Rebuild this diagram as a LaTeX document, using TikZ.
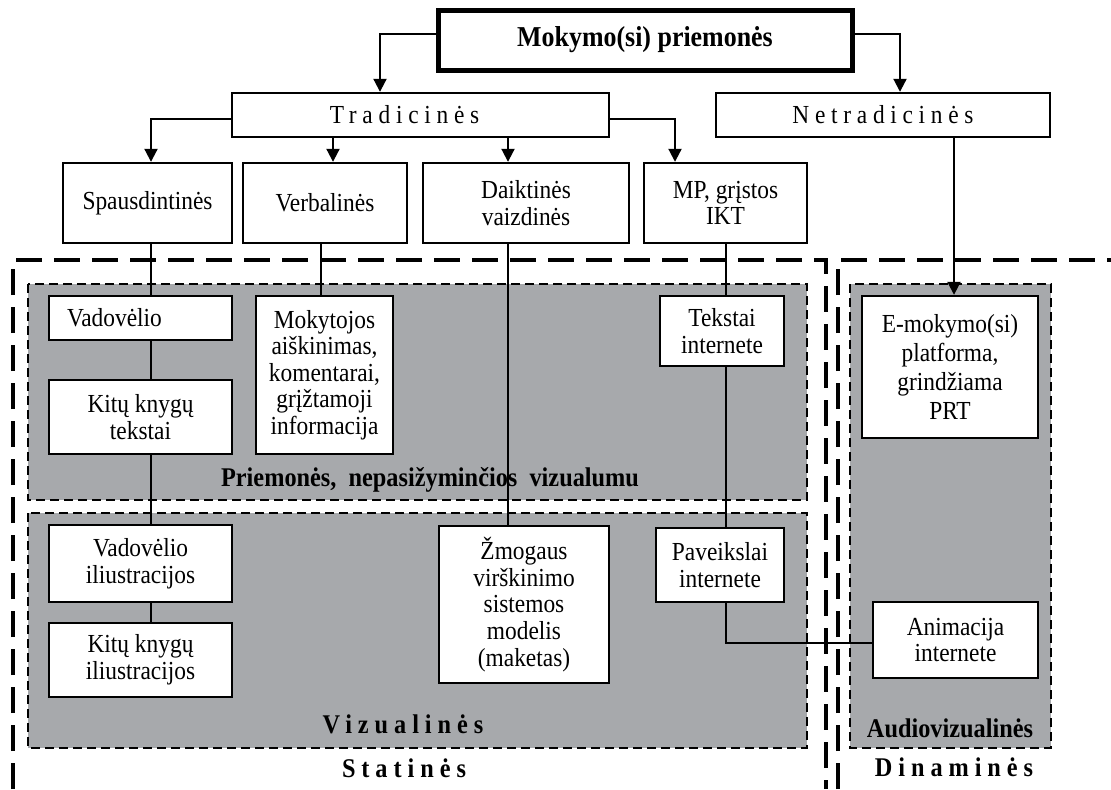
\documentclass[tikz,border=0pt]{standalone}
\usepackage{fontspec}
\setmainfont{Liberation Serif}[FakeStretch=0.9]
\usepackage{tikz}
\usetikzlibrary{arrows.meta}
\definecolor{areagray}{RGB}{167,169,172}
\newcommand{\spaced}[1]{{\addfontfeature{LetterSpace=22}#1}}

\begin{document}
\begin{tikzpicture}[x=0.5pt,y=-0.5pt,
  box/.style={draw,line width=1.2pt,fill=white,align=center,inner sep=1pt,
    font=\fontsize{13}{13.3}\selectfont},
  area/.style={draw,fill=areagray,line width=0.9pt,dash pattern=on 4.5pt off 2.5pt},
  frame/.style={draw,line width=1.6pt,dash pattern=on 13pt off 6pt},
  arr/.style={-{Triangle[length=6.5pt,width=6.5pt]},line width=1pt},
  link/.style={line width=0.8pt},
  tag/.style={font=\fontsize{13.5}{15}\selectfont\bfseries}]
  \useasboundingbox (0,0) rectangle (1111,789);
  % frames and grey areas
  \draw[frame] (13,789) -- (13,260) -- (826,260) -- (826,789);
  \draw[frame] (838,789) -- (838,260) -- (1111,260);
  \path[area] (28,284) rectangle (807,500);
  \path[area] (28,513) rectangle (807,748);
  \path[area] (850,284) rectangle (1051,748);
  % top levels
  \node[box,line width=2.5pt,minimum width=207pt,minimum height=30pt,
    font=\fontsize{14.4}{16}\selectfont\bfseries] (mok) at (645,40) {Mokymo(si) priemonės};
  \node[box,minimum width=188.5pt,minimum height=22pt] (trad) at (420.5,115) {\spaced{Tradicinės}\hspace*{16pt}};
  \node[box,minimum width=167pt,minimum height=22pt] (netrad) at (883,115) {\spaced{Netradicinės}};
  \node[box,minimum width=84.5pt,minimum height=40pt] (spaud) at (147.5,203) {Spausdintinės};
  \node[box,minimum width=82pt,minimum height=40pt] (verb) at (325,203) {Verbalinės};
  \node[box,minimum width=103pt,minimum height=40pt] (daikt) at (526,203) {Daiktinės\\vaizdinės};
  \node[box,minimum width=81.5pt,minimum height=40pt] (mp) at (725.5,203) {MP, grįstos\\IKT};
  % inside the areas
  \node[box,text width=73.5pt,inner xsep=9pt,align=left,minimum height=22pt] (vadov) at (140.5,318) {Vadovėlio};
  \node[box,minimum width=91.5pt,minimum height=37pt] (kitu) at (140.5,417) {Kitų knygų\\tekstai};
  \node[box,minimum width=68.5pt,minimum height=79pt] (mokyt) at (324.5,375) {Mokytojos\\aiškinimas,\\komentarai,\\grįžtamoji\\informacija};
  \node[box,minimum width=62pt,minimum height=35pt] (tekst) at (722,331) {Tekstai\\internete};
  \node[box,minimum width=88pt,minimum height=71pt,font=\fontsize{13}{14.5}\selectfont] (emok) at (950,367) {E-mokymo(si)\\platforma,\\grindžiama\\PRT};
  \node[box,minimum width=91.5pt,minimum height=38.5pt] (vadil) at (140.5,563.5) {Vadovėlio\\iliustracijos};
  \node[box,minimum width=91.5pt,minimum height=37pt] (kitil) at (140.5,660) {Kitų knygų\\iliustracijos};
  \node[box,minimum width=85pt,minimum height=78.5pt] (zmog) at (524,604.5) {Žmogaus\\virškinimo\\sistemos\\modelis\\(maketas)};
  \node[box,minimum width=64pt,minimum height=37pt] (pav) at (720,565) {Paveikslai\\internete};
  \node[box,minimum width=82.5pt,minimum height=38pt] (anim) at (955.5,640) {Animacija\\internete};
  % area titles
  \node[tag] (nevis) at (430,480) {Priemonės,\ \ nepasižyminčios\ \ vizualumu};
  \node[tag] (vizual) at (403,724) {\spaced{Vizualinės}};
  \node[tag] (audio) at (950,728) {Audiovizualinės};
  \node[tag] (stat) at (404,768) {\spaced{Statinės}};
  \node[tag] (dinam) at (954,767) {\spaced{Dinaminės}};
  % arrows
  \draw[arr] (mok.west |- 0,34) -| (380,0 |- trad.north);
  \draw[arr] (mok.east |- 0,34) -| (900,0 |- netrad.north);
  \draw[arr] (trad.west |- 0,119) -| (151,0 |- spaud.north);
  \draw[arr] (trad.east |- 0,119) -| (675,0 |- mp.north);
  \draw[arr] (333,0 |- trad.south) -- (333,0 |- verb.north);
  \draw[arr] (508,0 |- trad.south) -- (508,0 |- daikt.north);
  \draw[arr] (954,0 |- netrad.south) -- (954,0 |- emok.north);
  % plain links
  \draw[link] (151,0 |- spaud.south) -- (151,0 |- vadov.north);
  \draw[link] (151,0 |- vadov.south) -- (151,0 |- kitu.north);
  \draw[link] (151,0 |- kitu.south) -- (151,0 |- vadil.north);
  \draw[link] (151,0 |- vadil.south) -- (151,0 |- kitil.north);
  \draw[link] (321,0 |- verb.south) -- (321,0 |- mokyt.north);
  \draw[link] (508,0 |- daikt.south) -- (508,0 |- zmog.north);
  \draw[link] (726,0 |- mp.south) -- (726,0 |- tekst.north);
  \draw[link] (726,0 |- tekst.south) -- (726,0 |- pav.north);
  \draw[link] (726,0 |- pav.south) |- (anim.west |- 0,643);
\end{tikzpicture}
\end{document}
